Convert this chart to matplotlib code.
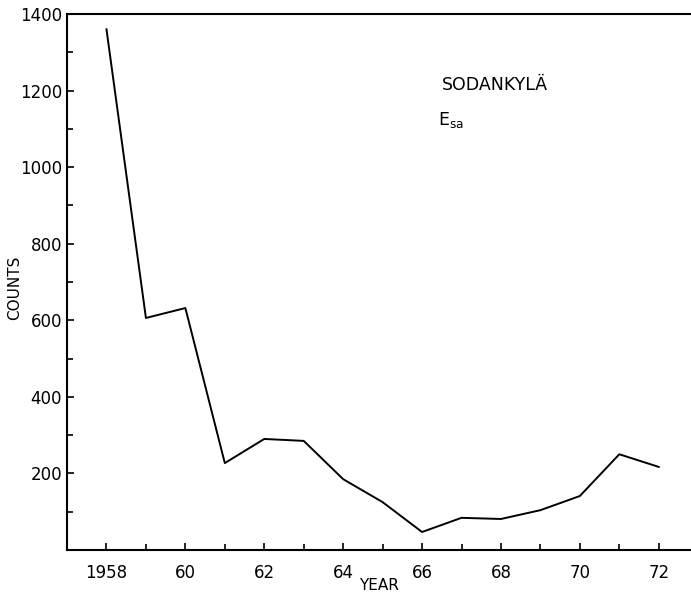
import matplotlib
matplotlib.use('Agg')
import matplotlib.pyplot as plt
from matplotlib.ticker import MultipleLocator

# --- data ---
years = [1958, 1959, 1960, 1961, 1962, 1963, 1964, 1965,
         1966, 1967, 1968, 1969, 1970, 1971, 1972]
counts = [1360, 606, 632, 227, 290, 285, 185, 125,
          47, 84, 81, 104, 141, 250, 217]
xtick_pos = [1958, 1960, 1962, 1964, 1966, 1968, 1970, 1972]
xtick_labels = ['1958', '60', '62', '64', '66', '68', '70', '72']
ytick_pos = [200, 400, 600, 800, 1000, 1200, 1400]

fig = plt.figure(figsize=(6.91, 5.96), dpi=100)
ax = fig.add_axes([0.097, 0.0772, 0.902, 0.8993])

ax.plot(years, counts, color='black', lw=1.4)

ax.set_xlim(1957.0, 1972.8)
ax.set_ylim(0, 1400)
ax.set_xticks(xtick_pos)
ax.set_xticklabels(xtick_labels)
ax.set_yticks(ytick_pos)
ax.xaxis.set_minor_locator(MultipleLocator(1))
ax.yaxis.set_minor_locator(MultipleLocator(100))
ax.tick_params(which='both', direction='in', width=1.2, labelsize=12)
ax.tick_params(which='major', length=5)
ax.tick_params(which='minor', length=4)
ax.tick_params(axis='x', pad=10)

ax.spines['right'].set_visible(False)
for s in ['left', 'top', 'bottom']:
    ax.spines[s].set_linewidth(1.5)

ax.set_xlabel('YEAR', fontsize=11, labelpad=-3)
ax.set_ylabel('COUNTS', fontsize=11)
ax.yaxis.set_label_coords(-0.072, 0.49)

ax.text(1966.5, 1214, 'SODANKYLÄ', fontsize=12.5, va='center', ha='left')
ax.text(1966.4, 1123, r'E$_{\mathrm{sa}}$', fontsize=12.5, va='center', ha='left')

fig.savefig('out.png', dpi=100)
